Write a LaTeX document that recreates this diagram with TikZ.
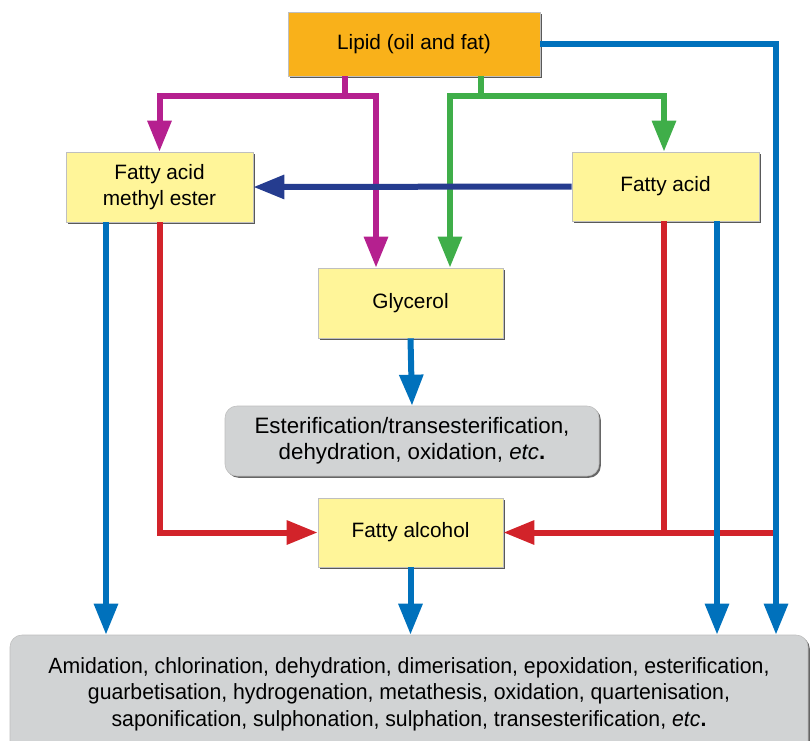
\documentclass[tikz,border=0pt]{standalone}
\usepackage{fontspec}
\setmainfont{Liberation Sans}
\newfontfamily\narrowfont[FakeStretch=0.965]{Liberation Sans}
\usetikzlibrary{arrows.meta,shadows}
\definecolor{cmag}{HTML}{B5208F}
\definecolor{cgrn}{HTML}{3FAE49}
\definecolor{cblu}{HTML}{0071BC}
\definecolor{cnav}{HTML}{253C8F}
\definecolor{cred}{HTML}{D2232A}
\definecolor{cyel}{HTML}{FFF599}
\definecolor{cora}{HTML}{F9B11A}
\definecolor{cgry}{HTML}{D1D3D4}
\tikzset{
  box/.style={draw=black!25, line width=0.6pt, fill=cyel, inner sep=0pt, align=center,
    font=\fontsize{20.8}{26}\selectfont,
    drop shadow={shadow xshift=1.8pt, shadow yshift=-1.8pt, fill=black!65, opacity=1}},
  gbox/.style={draw=black!25, line width=0.6pt, fill=cgry, rounded corners=12pt, inner sep=0pt, align=center,
    drop shadow={shadow xshift=1.8pt, shadow yshift=-1.8pt, fill=black!60, opacity=1}},
  conn/.style={line width=6pt},
  tip/.style={-{Triangle[width=23pt,length=31pt]}},
}
\begin{document}
\begin{tikzpicture}[x=1pt,y=-1pt]
\useasboundingbox (0,0) rectangle (810,740);
% nodes
\node[box, fill=cora, minimum width=252pt, minimum height=64pt] (lipid) at (414,44) {Lipid (oil and fat)};
\node[box, minimum width=187pt, minimum height=70pt] (fame) at (159.5,187) {\raisebox{0pt}[0pt][0pt]{}Fatty acid\\methyl ester};
\node[box, minimum width=187pt, minimum height=69pt] (fa) at (665.5,186.5) {\raisebox{-2pt}{Fatty acid}};
\node[box, minimum width=185pt, minimum height=70pt] (gly) at (410.5,303) {\raisebox{-2pt}{Glycerol}};
\node[gbox, minimum width=374pt, minimum height=70pt, font=\fontsize{22.3}{26}\selectfont] (est) at (412,441)
  {\raisebox{-3pt}{\begin{tabular}{@{}c@{}}Esterification/transesterification,\\dehydration, oxidation, \textit{etc}\textbf{.}\end{tabular}}};
\node[box, minimum width=185pt, minimum height=69pt] (falc) at (410.5,532.5) {\raisebox{-1pt}{Fatty alcohol}};
\node[gbox, minimum width=798pt, minimum height=118pt, font=\narrowfont\fontsize{22}{26.5}\selectfont] (bot) at (409,694)
  {Amidation, chlorination, dehydration, dimerisation, epoxidation, esterification,\\
   guarbetisation, hydrogenation, metathesis, oxidation, quartenisation,\\
   saponification, sulphonation, sulphation, transesterification, \textit{etc}\textbf{.}};
% helper coordinates
\coordinate (mj) at (345,96);
\coordinate (gj) at (481,96);
\coordinate (mx) at (376,0);
\coordinate (gx) at (450,0);
\coordinate (bx) at (776,0);
\coordinate (fx) at (106,0);
\coordinate (ax) at (717,0);
\coordinate (rx) at (664,0);
% magenta
\draw[conn, cmag] (lipid.south -| mj) -- (mj);
\draw[conn, cmag, tip] (mj) -| (fame.north);
\draw[conn, cmag, tip] (mj) -| (gly.north -| mx);
% green
\draw[conn, cgrn] (lipid.south -| gj) -- (gj);
\draw[conn, cgrn, tip] (gj) -| (fa.north -| rx);
\draw[conn, cgrn, tip] (gj) -| (gly.north -| gx);
% navy
\draw[conn, cnav, tip] (fa.west) -- (fame.east);
% red
\draw[conn, cred, tip] (fame.south) |- (falc.west);
\draw[conn, cred] (fa.south -| rx) -- (rx |- falc.east);
\draw[conn, cred, tip] (bx |- falc.east) -- (falc.east);
% blue
\draw[conn, cblu, tip] (lipid.east) -| (bot.north -| bx);
\draw[conn, cblu, tip] (fa.south -| ax) -- (bot.north -| ax);
\draw[conn, cblu, tip] (fame.south -| fx) -- (bot.north -| fx);
\draw[conn, cblu, tip] (gly.south) -- (est.north);
\draw[conn, cblu, tip] (falc.south) -- (bot.north -| falc.south);
\end{tikzpicture}
\end{document}
